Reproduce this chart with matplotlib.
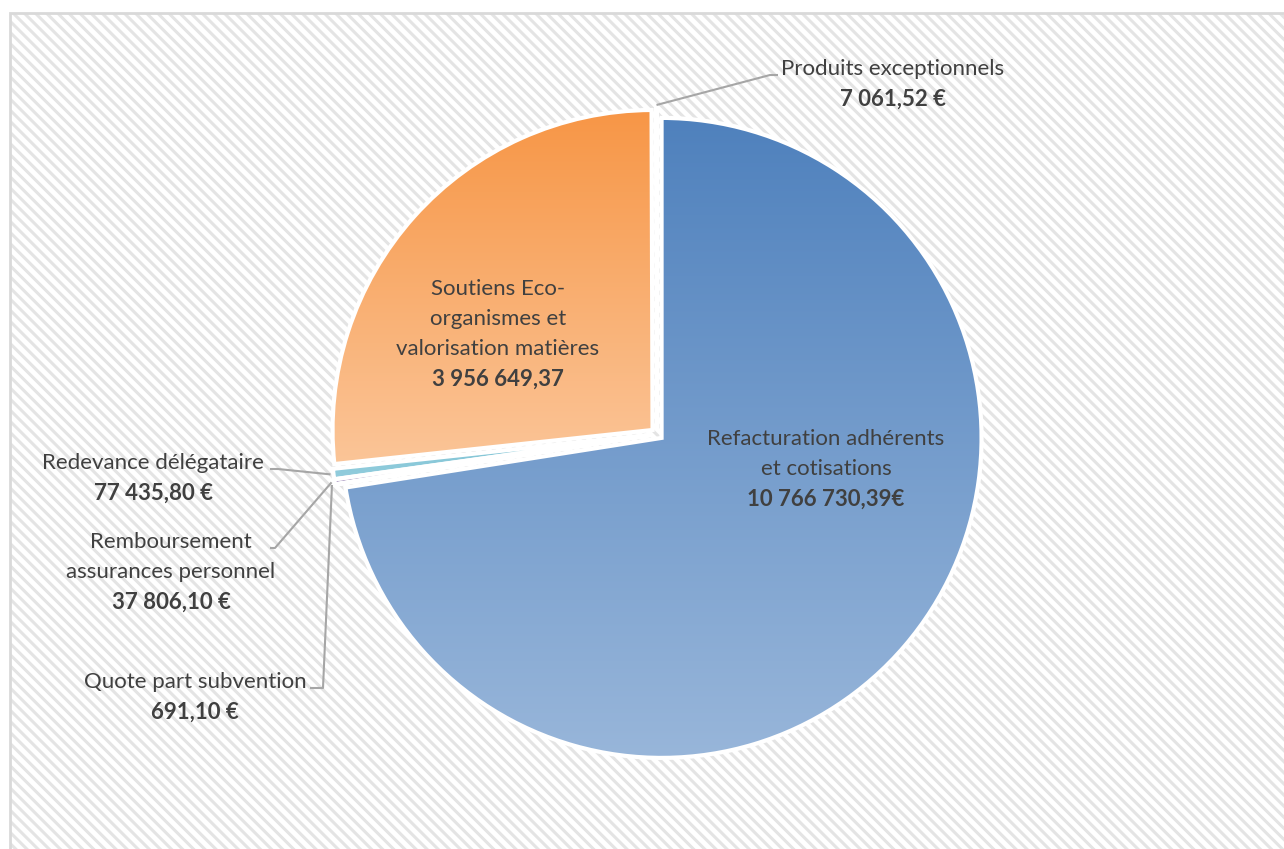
"""Pie chart of revenue sources, Excel-style, with hatched background."""

import numpy as np
import matplotlib

matplotlib.use("Agg")
import matplotlib.pyplot as plt
from matplotlib.colors import to_rgb
from matplotlib.patches import Rectangle

categories = [
    "Refacturation adhérents\net cotisations",
    "Quote part subvention",
    "Remboursement\nassurances personnel",
    "Redevance délégataire",
    "Soutiens Eco-\norganismes et\nvalorisation matières",
    "Produits exceptionnels",
]
values = [10766730.39, 691.10, 37806.10, 77435.80, 3956649.37, 7061.52]
currency = ["€", " €", " €", " €", "", " €"]

# gradient colours (top, bottom) for each slice
top_colors = ["#4F81BD", "#9BBB59", "#8064A2", "#7CC2D3", "#F79646", "#4BACC6"]
bottom_colors = ["#98B6DA", "#C3D69B", "#B3A2C7", "#93CDDD", "#FBC598", "#93CDDD"]

W, H = 1284, 849
TEXT = "#404040"
LEADER = "#a6a6a6"
FS = 16

plt.rcParams["font.family"] = ["Lato", "DejaVu Sans"]
plt.rcParams["hatch.linewidth"] = 2.2


def fr_number(v: float) -> str:
    s = f"{v:,.2f}"
    return s.replace(",", " ").replace(".", ",")


fig = plt.figure(figsize=(W / 100, H / 100), dpi=100)
ax = fig.add_axes([0, 0, 1, 1])

# hatched chart area
ax.add_patch(Rectangle((10, -20), W + 20, H - 13 + 20, facecolor="white",
                       edgecolor="#e4e4e4", hatch="\\\\\\", linewidth=0, zorder=0))
ax.add_patch(Rectangle((10, -20), W + 20, H - 13 + 20, facecolor="none",
                       edgecolor="#d9d9d9", linewidth=2, zorder=1))

center = (657, H - 434)
radius = 320
wedges, _ = ax.pie(values, startangle=90, counterclock=False, center=center, radius=radius,
                   explode=[6] * len(values),
                   wedgeprops=dict(edgecolor="white", linewidth=3, facecolor="none", zorder=3))

for w, c_top, c_bot in zip(wedges, top_colors, bottom_colors):
    ext = w.get_path().get_extents()
    t = np.linspace(0, 1, 256)[:, None]
    grad = (1 - t) * np.array(to_rgb(c_bot)) + t * np.array(to_rgb(c_top))
    img = ax.imshow(grad[:, None, :], extent=[ext.x0, ext.x1, ext.y0, ext.y1], origin="lower",
                    aspect="auto", interpolation="bilinear", zorder=2)
    img.set_clip_path(w)


def label(x, y, name, value_text):
    lines = name.split("\n")
    for i, line in enumerate(lines):
        ax.text(x, H - (y + i * 30), line, ha="center", va="center", fontsize=FS, color=TEXT, zorder=5)
    ax.text(x, H - (y + len(lines) * 30), value_text, ha="center", va="center", fontsize=FS,
            fontweight="bold", color=TEXT, zorder=5)


def edge_point(w, pad=3):
    mid = np.deg2rad((w.theta1 + w.theta2) / 2)
    return (w.center[0] + (w.r + pad) * np.cos(mid), w.center[1] + (w.r + pad) * np.sin(mid))


# label layout: (centre x, first line y in pixels from top)
label_pos = [(826, 439), (195, 682), (171, 542), (153, 463), (498, 289), (893, 69)]
# elbow points of leader lines (pixels from top), None for labels inside slices
elbows = [None, [(310, 688), (323, 688)], [(270, 548), (275, 548)], [(270, 469), (278, 469)],
          None, [(778, 75), (770, 75)]]

for w, name, v, cur, pos, elb in zip(wedges, categories, values, currency, label_pos, elbows):
    label(pos[0], pos[1], name, fr_number(v) + cur)
    if elb is not None:
        px, py = edge_point(w)
        xs = [e[0] for e in elb] + [px]
        ys = [H - e[1] for e in elb] + [py]
        ax.plot(xs, ys, color=LEADER, linewidth=1.5, zorder=4, solid_capstyle="butt")

ax.set_xlim(0, W)
ax.set_ylim(0, H)
ax.set_aspect("equal")
ax.axis("off")

fig.savefig("out.png", dpi=100)
